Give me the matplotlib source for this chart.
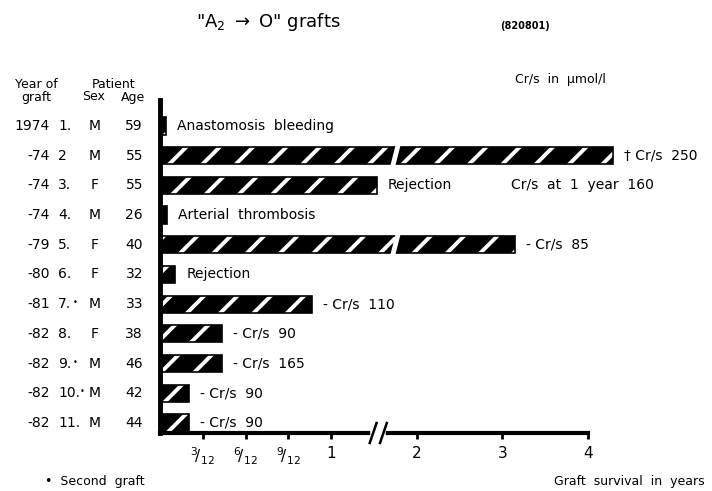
import matplotlib.pyplot as plt
import matplotlib.transforms as mtransforms
import numpy as np

plt.rcParams['font.family'] = ['DejaVu Sans']
plt.rcParams['mathtext.default'] = 'regular'
plt.rcParams['hatch.linewidth'] = 2.8

# data
years = ['1974', '-74', '-74', '-74', '-79', '-80', '-81', '-82', '-82', '-82', '-82']
patients = ['1.', '2', '3.', '4.', '5.', '6.', '7.', '8.', '9.', '10.', '11.']
second = [False, False, False, False, False, False, True, False, True, True, False]
sex = ['M', 'M', 'F', 'M', 'F', 'F', 'M', 'F', 'M', 'M', 'M']
age = [59, 55, 55, 26, 40, 32, 33, 38, 46, 42, 44]
survival = [0.035, 4.29, 1.53, 0.04, 3.15, 0.09, 0.89, 0.36, 0.36, 0.17, 0.17]
notes = ['Anastomosis  bleeding', '\u2020 Cr/s  250', 'Rejection', 'Arterial  thrombosis',
         '- Cr/s  85', 'Rejection', '- Cr/s  110', '- Cr/s  90', '- Cr/s  165',
         '- Cr/s  90', '- Cr/s  90']
extra_note = 'Cr/s  at  1  year  160'
tick_vals = [0.25, 0.5, 0.75, 1, 2, 3, 4]
tick_labels = [r'$^{3}\!/_{12}$', r'$^{6}\!/_{12}$', r'$^{9}\!/_{12}$', '1', '2', '3', '4']


# first year at double scale, later years compressed
def fwd(x):
    x = np.asarray(x, dtype=float)
    return np.where(x <= 1, x, 1 + (x - 1) * 0.5)


def inv(t):
    t = np.asarray(t, dtype=float)
    return np.where(t <= 1, t, 1 + (t - 1) * 2)


fig = plt.figure(figsize=(7.12, 4.91), dpi=100)
ax = fig.add_axes([160 / 712, 58 / 491, 460 / 712, 333 / 491])
ax.set_xscale('function', functions=(fwd, inv))
ax.set_xlim(0, 4.374)

rows = np.arange(len(survival))
ax.set_ylim(10.34, -0.875)

# black bars with white stripes, then black outline
ax.barh(rows, survival, height=0.58, color='black', edgecolor='white', hatch='/', linewidth=0)
ax.barh(rows, survival, height=0.58, fill=False, edgecolor='black', linewidth=1.2)

# breaks in the two long bars
for r in [1, 4]:
    ax.plot([1.72, 1.78], [r + 0.34, r - 0.34], color='white', lw=3.5, solid_capstyle='butt')

# axes styling
for s in ['top', 'right']:
    ax.spines[s].set_visible(False)
ax.spines['left'].set_linewidth(3.5)
ax.spines['bottom'].set_linewidth(3)
ax.spines['bottom'].set_bounds(0, 4)
ax.set_yticks([])
ax.set_xticks(tick_vals)
ax.set_xticklabels(tick_labels, fontsize=11)
ax.tick_params(axis='x', direction='out', length=4, width=2, pad=5)

# axis break "//"
bt = mtransforms.blended_transform_factory(ax.transData, ax.transAxes)
ax.plot([1.49, 1.61], [0, 0], color='white', lw=4, transform=bt, clip_on=False, zorder=5)
for xb in [1.45, 1.57]:
    ax.plot([xb, xb + 0.08], [-0.03, 0.03], color='black', lw=1.8, transform=bt,
            clip_on=False, zorder=6)

# notes beside bars
for r in rows:
    ax.annotate(notes[r], (survival[r], r), xytext=(8, 0), textcoords='offset points',
                va='center', ha='left', fontsize=10)
ax.text(3.1, 2, extra_note, va='center', ha='left', fontsize=10)

# left table
lt = mtransforms.blended_transform_factory(fig.transFigure, ax.transData)
for r in rows:
    fig.text(50 / 712, r, years[r], transform=lt, ha='right', va='center', fontsize=10)
    fig.text(58 / 712, r, patients[r], transform=lt, ha='left', va='center', fontsize=10)
    if second[r]:
        off = 22 if len(patients[r]) > 2 else 15
        fig.text((58 + off) / 712, r - 0.05, '\u2022', transform=lt, ha='left',
                 va='center', fontsize=6)
    fig.text(95 / 712, r, sex[r], transform=lt, ha='center', va='center', fontsize=10)
    fig.text(143 / 712, r, str(age[r]), transform=lt, ha='right', va='center', fontsize=10)

fig.text(36 / 712, 1 - 85 / 491, 'Year of', ha='center', va='center', fontsize=9)
fig.text(36 / 712, 1 - 97 / 491, 'graft', ha='center', va='center', fontsize=9)
fig.text(114 / 712, 1 - 85 / 491, 'Patient', ha='center', va='center', fontsize=9)
fig.text(94 / 712, 1 - 97 / 491, 'Sex', ha='center', va='center', fontsize=9)
fig.text(133 / 712, 1 - 97 / 491, 'Age', ha='center', va='center', fontsize=9)

# titles and footers
fig.text(268 / 712, 1 - 22 / 491, r'"A$_2$ $\rightarrow$ O" grafts', ha='center',
         va='center', fontsize=13)
fig.text(525 / 712, 1 - 26 / 491, '(820801)', ha='center', va='center', fontsize=7,
         fontweight='bold')
fig.text(560 / 712, 1 - 80 / 491, 'Cr/s  in  \u03bcmol/l', ha='center', va='center', fontsize=9)
fig.text(45 / 712, 1 - 481 / 491, '\u2022  Second  graft', ha='left', va='center', fontsize=9)
fig.text(705 / 712, 1 - 481 / 491, 'Graft  survival  in  years', ha='right', va='center',
         fontsize=9)

plt.savefig('out.png', dpi=100)
